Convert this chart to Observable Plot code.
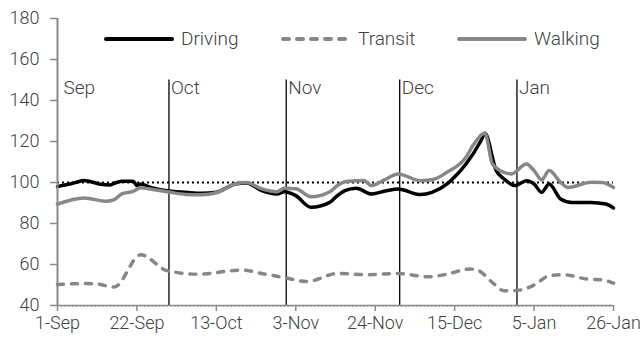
<!DOCTYPE html>
<html><head><meta charset="utf-8">
<script src="https://cdn.jsdelivr.net/npm/d3@7"></script>
<script src="https://cdn.jsdelivr.net/npm/@observablehq/plot@0.6"></script>
<style>
body{margin:0;background:#fff;}
#wrap{position:relative;width:643px;height:343px;font-family:Roboto,sans-serif;font-weight:300;color:#404040;}
.lg{position:absolute;top:27px;display:flex;align-items:center;font-size:19px;white-space:nowrap;}
.lg svg{margin-right:7px;}
</style></head><body><div id="wrap"></div>
<script>
const drivingDates = ["2019-09-01","2019-09-05","2019-09-08","2019-09-12","2019-09-15","2019-09-16","2019-09-18","2019-09-21","2019-09-22","2019-09-23","2019-09-25","2019-09-30","2019-10-05","2019-10-09","2019-10-13","2019-10-18","2019-10-21","2019-10-25","2019-10-29","2019-10-31","2019-11-03","2019-11-07","2019-11-12","2019-11-14","2019-11-16","2019-11-19","2019-11-23","2019-11-27","2019-11-30","2019-12-06","2019-12-09","2019-12-13","2019-12-14","2019-12-18","2019-12-22","2019-12-23","2019-12-26","2019-12-28","2019-12-31","2020-01-03","2020-01-05","2020-01-07","2020-01-09","2020-01-12","2020-01-15","2020-01-20","2020-01-24","2020-01-26"];
const drivingValues = [98,99.6,101,99.3,98.8,99.6,100.6,100.6,98.5,99.3,98,96,95.2,94.7,95.2,99.3,99.8,96,94.4,95.5,93.6,87.9,90.3,93.6,96,97.2,94.4,96,96.8,94.1,95.2,99.3,100.9,109,120.5,124,105.8,101.8,98.5,100.9,99.3,95.2,99.3,92,90.3,90.3,89.5,87.6];

const walkingDates = ["2019-09-01","2019-09-08","2019-09-14","2019-09-16","2019-09-18","2019-09-21","2019-09-23","2019-09-25","2019-09-30","2019-10-05","2019-10-09","2019-10-13","2019-10-18","2019-10-21","2019-10-25","2019-10-29","2019-10-31","2019-11-03","2019-11-07","2019-11-12","2019-11-14","2019-11-16","2019-11-19","2019-11-21","2019-11-23","2019-11-27","2019-11-30","2019-12-06","2019-12-09","2019-12-13","2019-12-18","2019-12-20","2019-12-23","2019-12-25","2019-12-28","2019-12-30","2020-01-03","2020-01-05","2020-01-07","2020-01-09","2020-01-12","2020-01-14","2020-01-20","2020-01-23","2020-01-26"];
const walkingValues = [89.5,92.5,90.8,91.6,94.5,95.7,97.4,97,95.5,94.2,94,95,99.3,100,96.9,95.5,97.2,97,93,95.5,98.5,100.4,100.9,101,98.5,101.8,104.2,100.9,101.3,105,112.3,118.5,124,109,105,104.2,109,105.8,101.3,105.8,100.1,97.6,100.1,100,97.6];

const transitDates = ["2019-09-01","2019-09-08","2019-09-11","2019-09-16","2019-09-23","2019-09-30","2019-10-08","2019-10-20","2019-10-25","2019-10-31","2019-11-06","2019-11-14","2019-11-22","2019-11-30","2019-12-08","2019-12-13","2019-12-19","2019-12-21","2019-12-25","2019-12-28","2020-01-01","2020-01-05","2020-01-09","2020-01-13","2020-01-19","2020-01-23","2020-01-26"];
const transitValues = [50.2,50.7,50.6,49,64.7,57,55.3,57.3,55.6,53.6,51.7,55.6,55,55.6,54,55.3,57.8,57.3,51.2,47.2,47.5,50,54.5,55,52.9,52.5,50.9];

const monthStarts = ["2019-10-01","2019-11-01","2019-12-01","2020-01-01"];
const monthLabels = ["Sep","Oct","Nov","Dec","Jan"];
const monthLabelDates = ["2019-09-01","2019-10-01","2019-11-01","2019-12-01","2020-01-01"];
const xTicks = ["2019-09-01","2019-09-22","2019-10-13","2019-11-03","2019-11-24","2019-12-15","2020-01-05","2020-01-26"];
const yTicks = [40,60,80,100,120,140,160,180];
const seriesNames = ["Driving","Transit","Walking"];

const P = s => new Date(s + "T00:00:00Z");
const mk = (dates, vals) => dates.map((d, i) => ({date: P(d), value: vals[i]}));
const driving = mk(drivingDates, drivingValues);
const walking = mk(walkingDates, walkingValues);
const transit = mk(transitDates, transitValues);
const months = monthLabels.map((m, i) => ({label: m, date: P(monthLabelDates[i])}));

const x0 = P(xTicks[0]), x1 = P(xTicks[xTicks.length - 1]);
const days = d3.utcDay.range(x0, d3.utcDay.offset(x1, 1));
const AX = "#8a8a8a";
const GR = "#878787";
const TXT = "#404040";

const plot = Plot.plot({
  width: 643, height: 343,
  marginLeft: 57, marginRight: 30, marginTop: 18, marginBottom: 38,
  style: {fontFamily: "Roboto, sans-serif", fontSize: "18px", fontWeight: 300, background: "#fff"},
  x: {type: "utc", domain: [x0, x1]},
  y: {domain: [40, 180]},
  marks: [
    Plot.axisY({ticks: yTicks, tickSize: 7, tickPadding: 11, stroke: AX, fill: TXT, strokeWidth: 1.5, label: null}),
    Plot.axisX({ticks: days, tickSize: 2, tickFormat: () => "", stroke: AX, strokeWidth: 1, label: null}),
    Plot.axisX({ticks: xTicks.map(P), tickSize: 6, tickPadding: 5, tickFormat: d3.utcFormat("%-d-%b"), stroke: AX, fill: TXT, strokeWidth: 1.5, label: null}),
    Plot.ruleX(monthStarts.map(P), {y1: 40, y2: 150, stroke: "#000", strokeWidth: 1.3, dx: -2}),
    Plot.text(months.slice(0, 1), {x: "date", y: 150, text: "label", textAnchor: "start", lineAnchor: "top", dx: 6, fontSize: 19, fill: TXT}),
    Plot.text(months.slice(1), {x: "date", y: 150, text: "label", textAnchor: "start", lineAnchor: "top", dx: 0, fontSize: 19, fill: TXT}),
    Plot.ruleY([100], {stroke: "#000", strokeWidth: 2, strokeDasharray: "2,3"}),
    Plot.line(transit, {x: "date", y: "value", stroke: GR, strokeWidth: 3.5, strokeDasharray: "6,8", strokeLinecap: "round", curve: "monotone-x"}),
    Plot.line(driving, {x: "date", y: "value", stroke: "#000", strokeWidth: 3.5, curve: "monotone-x"}),
    Plot.line(walking, {x: "date", y: "value", stroke: GR, strokeWidth: 3.5, curve: "monotone-x"}),
    Plot.ruleX([x0], {stroke: AX, strokeWidth: 2}),
    Plot.ruleY([40], {stroke: AX, strokeWidth: 1.5})
  ]
});

const wrap = document.getElementById("wrap");
wrap.appendChild(plot);

const lgStyles = [
  {color: "#000", dash: null, left: 104},
  {color: GR, dash: "6,8", left: 281},
  {color: GR, dash: null, left: 457}
];
seriesNames.forEach((name, i) => {
  const s = lgStyles[i];
  const div = document.createElement("div");
  div.className = "lg";
  div.style.left = s.left + "px";
  div.innerHTML = `<svg width="70" height="8"><line x1="2" x2="68" y1="4" y2="4" stroke="${s.color}" stroke-width="4" stroke-linecap="round" ${s.dash ? `stroke-dasharray="${s.dash}"` : ""}/></svg><span>${name}</span>`;
  wrap.appendChild(div);
});
</script>
</body></html>
